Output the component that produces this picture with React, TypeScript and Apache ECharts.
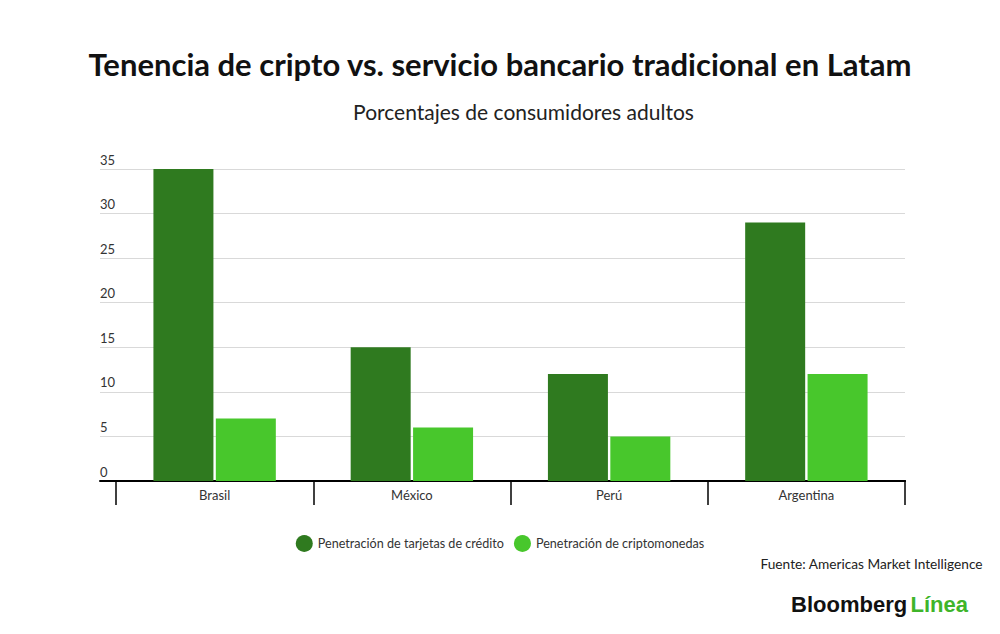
import React, { useEffect, useRef } from "react";
import * as echarts from "echarts";

const categories = ["Brasil", "México", "Perú", "Argentina"];
const creditCards = [35, 15, 12, 29];
const crypto = [7, 6, 5, 12];
const seriesNames = ["Penetración de tarjetas de crédito", "Penetración de criptomonedas"];
const yMin = 0;
const yMax = 35;
const yStep = 5;

const DARK = "#2f7a1f";
const LIGHT = "#48c72c";
const FONT = "Lato, 'Open Sans', sans-serif";

export default function App() {
  const ref = useRef<HTMLDivElement>(null);
  useEffect(() => {
    if (!ref.current) return;
    const chart = echarts.init(ref.current, undefined, { renderer: "svg" });
    chart.setOption({
      animation: false,
      backgroundColor: "#ffffff",
      textStyle: { fontFamily: FONT },
      title: [
        {
          text: "Tenencia de cripto vs. servicio bancario tradicional en Latam",
          left: "center",
          top: 43,
          textStyle: { fontFamily: FONT, fontWeight: "bold", fontSize: 31, color: "#111" },
        },
      ],
      legend: {
        data: seriesNames,
        left: "center",
        top: 530,
        icon: "circle",
        itemWidth: 17,
        itemHeight: 17,
        itemGap: 10,
        textStyle: { fontFamily: FONT, fontSize: 12.6, color: "#333" },
      },
      grid: [
        { left: 100, right: 95, top: 169, bottom: 153 },
        { left: 116, right: 95, top: 169, bottom: 153 },
      ],
      xAxis: [
        {
          type: "value",
          gridIndex: 0,
          min: 0,
          max: 1,
          axisLine: { show: true, onZero: false, lineStyle: { color: "#000", width: 2 } },
          axisTick: { show: false },
          axisLabel: { show: false },
          splitLine: { show: false },
        },
        {
          type: "category",
          gridIndex: 1,
          data: categories,
          axisLine: { show: true, lineStyle: { color: "#000", width: 2 } },
          axisTick: { show: true, length: 24, lineStyle: { color: "#000", width: 1.5 } },
          axisLabel: { margin: 7, fontSize: 13, color: "#333", fontFamily: FONT },
        },
      ],
      yAxis: [
        {
          type: "value",
          gridIndex: 0,
          min: yMin,
          max: yMax,
          interval: yStep,
          axisLine: { show: false },
          axisTick: { show: false },
          axisLabel: {
            align: "left",
            verticalAlign: "bottom",
            margin: 0,
            padding: [0, 0, 3, 0],
            fontSize: 13,
            color: "#333",
            fontFamily: FONT,
          },
          splitLine: { lineStyle: { color: "#d9d9d9", width: 1 } },
        },
        {
          type: "value",
          gridIndex: 1,
          min: yMin,
          max: yMax,
          interval: yStep,
          show: false,
          splitLine: { show: false },
        },
      ],
      series: [
        {
          name: seriesNames[0],
          type: "bar",
          xAxisIndex: 1,
          yAxisIndex: 1,
          data: creditCards,
          barWidth: 60,
          barGap: "4%",
          itemStyle: { color: DARK },
        },
        {
          name: seriesNames[1],
          type: "bar",
          xAxisIndex: 1,
          yAxisIndex: 1,
          data: crypto,
          barWidth: 60,
          barGap: "4%",
          itemStyle: { color: LIGHT },
        },
      ],
      graphic: [
        {
          type: "text",
          x: 523.5,
          y: 111,
          style: {
            text: "Porcentajes de consumidores adultos",
            font: `21px ${FONT}`,
            fill: "#222",
            align: "center",
            verticalAlign: "middle",
          },
        },
        {
          type: "text",
          right: 17,
          top: 556,
          style: {
            text: "Fuente: Americas Market Intelligence",
            font: `13.7px ${FONT}`,
            fill: "#222",
          },
        },
        {
          type: "text",
          right: 32,
          top: 593,
          style: {
            text: "{a|Bloomberg} {b|Línea}",
            rich: {
              a: { fontFamily: "'Liberation Sans', Arial, sans-serif", fontWeight: 900, fontSize: 22, fill: "#111" },
              b: { fontFamily: "'Liberation Sans', Arial, sans-serif", fontWeight: 900, fontSize: 22, fill: "#3fb52a" },
            },
          },
        },
      ],
    });
    return () => chart.dispose();
  }, []);
  return (
    <div
      ref={ref}
      style={{ position: "fixed", left: 0, top: 0, width: 1000, height: 634 }}
    />
  );
}
